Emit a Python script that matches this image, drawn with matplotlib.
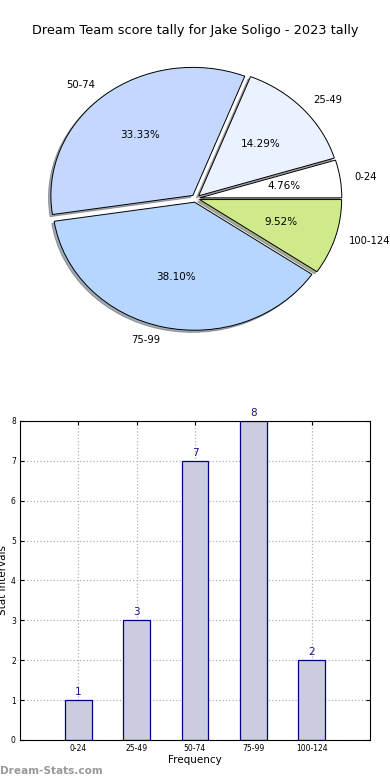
import matplotlib
matplotlib.use('Agg')
import matplotlib.pyplot as plt
import numpy as np

# data
categories = ['0-24', '25-49', '50-74', '75-99', '100-124']
counts = [1, 3, 7, 8, 2]
pie_colors = ['#ffffff', '#eaf1ff', '#c4d8ff', '#b7d6ff', '#cfea8b']
title = 'Dream Team score tally for Jake Soligo - 2023 tally'

fig = plt.figure(figsize=(3.9, 7.8), dpi=100)

# pie (old-style stretched pie, not equal aspect)
ax1 = fig.add_axes([0.0644, 0.5486, 0.874, 0.394])
explode = [0.03] * len(counts)
wedges, texts, autotexts = ax1.pie(counts, labels=categories, colors=pie_colors,
                                   explode=explode, autopct='%1.2f%%',
                                   shadow={'ox': -0.012, 'oy': -0.012, 'shade': 0.6},
                                   startangle=0, counterclock=True,
                                   wedgeprops={'edgecolor': 'black', 'linewidth': 0.7},
                                   textprops={'fontsize': 7.5})
for t in texts:
    t.set_fontsize(7.2)
ax1.set_aspect('auto')
ax1.set_xlim(-1.2, 1.2)
ax1.set_ylim(-1.2, 1.2)
fig.text(0.5, 0.961, title, ha='center', va='center', fontsize=9.3)

# bars
ax2 = fig.add_axes([0.0513, 0.0513, 0.897, 0.409])
x = np.arange(len(categories))
ax2.bar(x, counts, width=0.46, color='#ccccdf', edgecolor='#00008b', linewidth=0.9, zorder=2)
for xi, c in zip(x, counts):
    ax2.text(xi, c + 0.08, str(c), ha='center', va='bottom', fontsize=7.5, color='#14148a')
ax2.set_xlim(-1, 5)
ax2.set_ylim(0, 8)
ax2.set_xticks(x)
ax2.set_xticklabels(categories)
ax2.set_yticks(range(0, 9))
ax2.tick_params(labelsize=5.5, direction='in', top=True, right=True, length=3, pad=3)
ax2.grid(True, linestyle=':', color='#b0b0b0', linewidth=0.9, zorder=0)
ax2.set_axisbelow(True)
ax2.set_xlabel('Frequency', fontsize=7.5, labelpad=1)
ax2.set_ylabel('Stat Intervals', fontsize=7.5)
ax2.yaxis.set_label_coords(-0.033, 0.5)

fig.text(0.0, 0.012, 'Dream-Stats.com', fontsize=7.6, color='#999999', fontweight='bold', ha='left', va='center')

plt.savefig('out.png', dpi=100)
